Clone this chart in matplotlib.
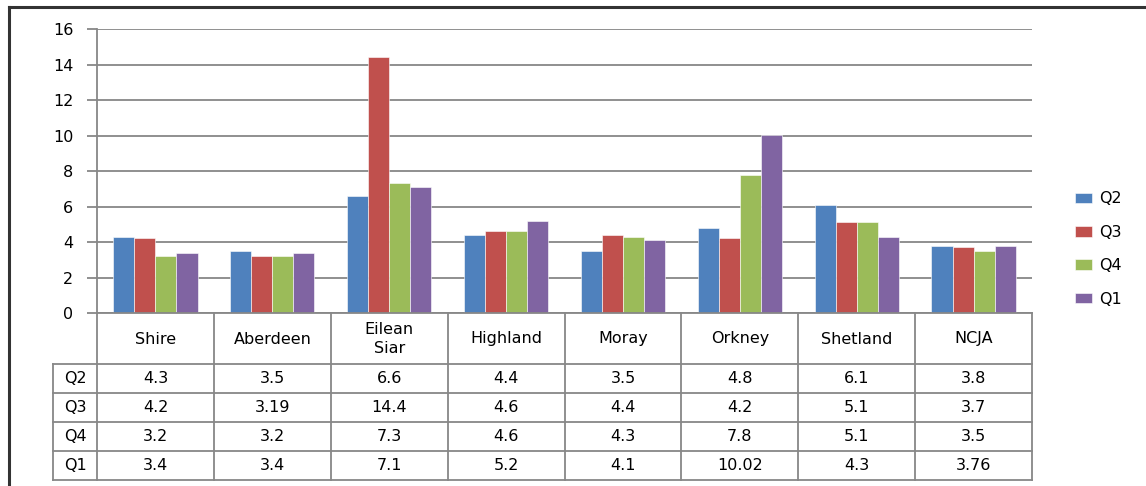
import matplotlib.pyplot as plt
from matplotlib.lines import Line2D
from matplotlib.transforms import blended_transform_factory

plt.rcParams['font.family'] = ['DejaVu Sans']

W, H = 1146, 486

regions = ['Shire', 'Aberdeen', 'Eilean\nSiar', 'Highland', 'Moray', 'Orkney', 'Shetland', 'NCJA']
quarters = ['Q2', 'Q3', 'Q4', 'Q1']
q2 = [4.3, 3.5, 6.6, 4.4, 3.5, 4.8, 6.1, 3.8]
q3 = [4.2, 3.19, 14.4, 4.6, 4.4, 4.2, 5.1, 3.7]
q4 = [3.2, 3.2, 7.3, 4.6, 4.3, 7.8, 5.1, 3.5]
q1 = [3.4, 3.4, 7.1, 5.2, 4.1, 10.02, 4.3, 3.76]
q1_labels = ['3.4', '3.4', '7.1', '5.2', '4.1', '10.02', '4.3', '3.76']
colors = ['#4F81BD', '#C0504D', '#9BBB59', '#8064A2']
series = [q2, q3, q4, q1]

grid_c = '#878787'
font_size = 11.5

fig = plt.figure(figsize=(W / 100, H / 100), dpi=100)

# outer chart border (only top and left visible)
fig.add_artist(Line2D([9 / W, 9 / W], [0, 1 - 7 / H], color='#333333', lw=2.2))
fig.add_artist(Line2D([9 / W, 1], [1 - 7 / H, 1 - 7 / H], color='#333333', lw=2.2))

ax = fig.add_axes([97 / W, 1 - 313 / H, (1032 - 97) / W, (313 - 29) / H])
ax.set_xlim(0, len(regions))
ax.set_ylim(0, 16)
ax.set_yticks(range(0, 17, 2))
ax.yaxis.grid(True, color=grid_c, lw=1.3)
ax.set_axisbelow(True)
ax.set_xticks([])
for s in ['top', 'right', 'bottom']:
    ax.spines[s].set_visible(False)
ax.spines['left'].set_color(grid_c)
ax.spines['left'].set_linewidth(1.3)
ax.tick_params(axis='y', length=7, width=1.3, color=grid_c, labelsize=font_size, pad=10)

bar_w = 0.18
for k, (vals, col, q) in enumerate(zip(series, colors, quarters)):
    xs = [i + 0.5 + (k - 1.5) * bar_w for i in range(len(regions))]
    ax.bar(xs, vals, width=bar_w, color=col, label=q, edgecolor='white', linewidth=0.4)

# data table under the axes: x in data units, y in pixels from top
tr = blended_transform_factory(ax.transData, fig.transFigure)
def fy(y):
    return 1 - y / H

row_y = [313, 364, 393, 422, 451, 480]
line_kw = dict(color=grid_c, lw=1.3, clip_on=False, transform=tr)
for y in row_y:
    x0 = 0 if y == 313 else -44 / 117
    ax.add_line(Line2D([x0, len(regions)], [fy(y), fy(y)], **line_kw))
for i in range(len(regions) + 1):
    ax.add_line(Line2D([i, i], [fy(313), fy(480)], **line_kw))
ax.add_line(Line2D([-44 / 117, -44 / 117], [fy(364), fy(480)], **line_kw))

for i, r in enumerate(regions):
    ax.text(i + 0.5, fy(339), r, transform=tr, ha='center', va='center',
            fontsize=font_size, linespacing=1.35)
    for j, vals in enumerate(series):
        yc = (row_y[j + 1] + row_y[j + 2]) / 2
        label = q1_labels[i] if j == 3 else f'{vals[i]:g}'
        ax.text(i + 0.5, fy(yc), label, transform=tr, ha='center', va='center', fontsize=font_size)
for j, q in enumerate(quarters):
    yc = (row_y[j + 1] + row_y[j + 2]) / 2
    ax.text(-22 / 117, fy(yc), q, transform=tr, ha='center', va='center', fontsize=font_size)

fig.legend(loc='center left', bbox_to_anchor=(1075 / W, fy(249)), frameon=False,
           fontsize=font_size, borderpad=0, borderaxespad=0, handlelength=1.05,
           handleheight=0.65, handletextpad=0.45, labelspacing=1.15)

fig.savefig('out.png', dpi=100)
